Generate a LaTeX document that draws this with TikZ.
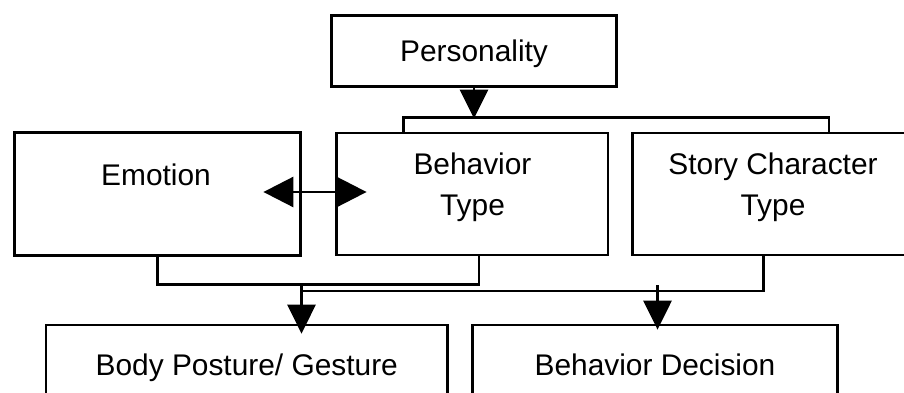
\documentclass[tikz,border=0pt]{standalone}
\usepackage{fontspec}
\setmainfont{Liberation Sans}
\usetikzlibrary{arrows.meta, positioning, calc}
\tikzset{
  box/.style={draw, line width=1.6pt, inner sep=0pt},
  boxtext/.style={align=center, font=\fontsize{17}{23.3}\selectfont},
  flattext/.style={boxtext, text depth=0pt},
  wire/.style={line width=1.6pt},
  pointer/.style={wire, -{Triangle[length=16.5pt, width=16pt]}},
  twoway/.style={wire, {Triangle[length=17pt, width=17pt]}-{Triangle[length=17pt, width=17pt]}},
}

\begin{document}
\begin{tikzpicture}
  \path[use as bounding box, clip] (0,0) rectangle (18.08,7.84);

  % Personality
  \node[box, flattext, minimum width=5.69cm, minimum height=1.43cm] (pers) at (9.48, 6.82) {Personality};

  % Middle row
  \node[box, minimum width=5.72cm, minimum height=2.45cm] (emo) at (3.15, 3.96) {};
  \node[box, minimum width=5.43cm, minimum height=2.44cm] (beh) at (9.445, 3.96) {};
  \node[box, minimum width=5.63cm, minimum height=2.44cm] (story) at (15.47, 3.96) {};
  \node[boxtext] (emotxt) at (3.12, 4.34) {Emotion};
  \node[boxtext] (behtxt) at (9.45, 4.09) {Behavior\\Type};
  \node[boxtext] (storytxt) at (15.46, 4.09) {Story Character\\Type};

  % Bottom row
  \node[box, flattext, minimum width=8.03cm, minimum height=1.6cm] (body) at (4.935, 0.54) {Body Posture/ Gesture};
  \node[box, flattext, minimum width=7.29cm, minimum height=1.6cm] (dec) at (13.10, 0.54) {Behavior Decision};

  % Personality feeds both type boxes
  \coordinate (topbus) at (9.48, 5.47);
  \draw[pointer] (pers.south) -- (topbus);
  \draw[wire] ($(beh.north)+(-1.375,0)$) -- ++(0,0.29) -| ($(story.north)+(1.11,0)$);

  % Emotion and behavior type
  \draw[twoway] ($(emo.east)+(-0.77,0.04)$) -- ($(beh.west)+(0.63,0.04)$);

  % Buses down to the bottom row
  \coordinate (join) at (6.03, 2.18);
  \coordinate (lowjoin) at (6.03, 2.02);
  \coordinate (decjoin) at (13.15, 2.14);
  \draw[wire] (emo.south) |- ($(beh.south)+(0.135,-0.56)$) -- ($(beh.south)+(0.135,0)$);
  \draw[wire] ($(story.south)+(-0.2,0)$) |- (lowjoin);
  \draw[pointer] (join) -- ($(body.north -| join)+(0,-0.2)$);
  \draw[pointer] (decjoin) -- ($(dec.north -| decjoin)+(0,-0.12)$);
\end{tikzpicture}
\end{document}
